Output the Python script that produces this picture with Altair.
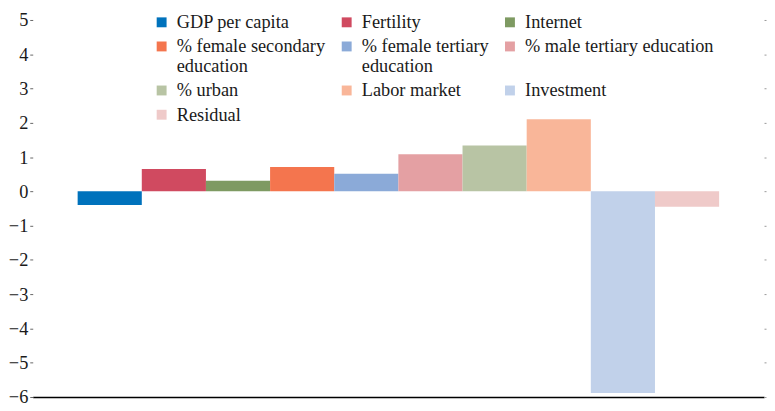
import altair as alt
import pandas as pd

categories = [
    "GDP per capita", "Fertility", "Internet",
    "% female secondary education", "% female tertiary education",
    "% male tertiary education", "% urban", "Labor market",
    "Investment", "Residual",
]
values = [-0.40, 0.65, 0.31, 0.71, 0.51, 1.08, 1.34, 2.10, -5.88, -0.45]
colors = ["#0072BC", "#D04A60", "#7E9A62", "#F4754E", "#8BAAD8",
          "#E4A0A3", "#B8C4A4", "#F9B699", "#C1D1EA", "#EFCAC9"]
y_ticks = [-6, -5, -4, -3, -2, -1, 0, 1, 2, 3, 4, 5]

df = pd.DataFrame({"cat": categories, "value": values})

FONT = "Liberation Sans Narrow"

label_expr = (
    "datum.label == '% female secondary education' ? ['% female secondary', 'education'] : "
    "datum.label == '% female tertiary education' ? ['% female tertiary', 'education'] : datum.label"
)

x_axis = alt.Axis(labels=False, ticks=False, title=None, domain=True,
                  domainColor="#000000", domainWidth=1.6, grid=False)
x_scale = alt.Scale(paddingInner=0, paddingOuter=0.7)
y_scale = alt.Scale(domain=[-6, 5], nice=False, zero=False)

bars = alt.Chart(df).mark_bar().encode(
    x=alt.X("cat:N", sort=categories, scale=x_scale, axis=x_axis),
    y=alt.Y("value:Q", scale=y_scale,
            axis=alt.Axis(orient="left", values=y_ticks, title=None, domain=False,
                          grid=False, tickSize=3, tickColor="#666666", tickWidth=1,
                          labelPadding=2, labelFont=FONT, labelFontSize=18.5,
                          labelColor="#1a1a1a",
                          labelExpr="replace(datum.label, '-', '\u2013')")),
    color=alt.Color("cat:N", sort=categories,
                    scale=alt.Scale(domain=categories, range=colors),
                    legend=alt.Legend(
                        title=None, orient="none", legendX=121, legendY=-7,
                        columns=3, direction="horizontal",
                        symbolType="square", symbolSize=100, symbolStrokeWidth=0,
                        labelFont=FONT, labelFontSize=18.5, labelColor="#1a1a1a",
                        labelLimit=300, labelOffset=6,
                        columnPadding=12, rowPadding=5.5, padding=0,
                        labelExpr=label_expr)),
)

right = alt.Chart(df).mark_bar(opacity=0).encode(
    x=alt.X("cat:N", sort=categories, scale=x_scale, axis=x_axis),
    y=alt.Y("value:Q", scale=y_scale,
            axis=alt.Axis(orient="right", values=y_ticks, title=None, domain=False,
                          grid=False, labels=False, tickSize=2, tickColor="#999999")),
)

chart = alt.layer(bars, right).resolve_axis(y="independent").properties(
    width=739, height=381,
    autosize=alt.AutoSizeParams(type="none"),
    padding={"left": 25, "top": 10, "right": 3, "bottom": 8},
).configure(
    style={"guide-label": {"lineHeight": 20}},
).configure_view(strokeWidth=0)

chart.save("out.html", embed_options={"renderer": "svg", "actions": False})
